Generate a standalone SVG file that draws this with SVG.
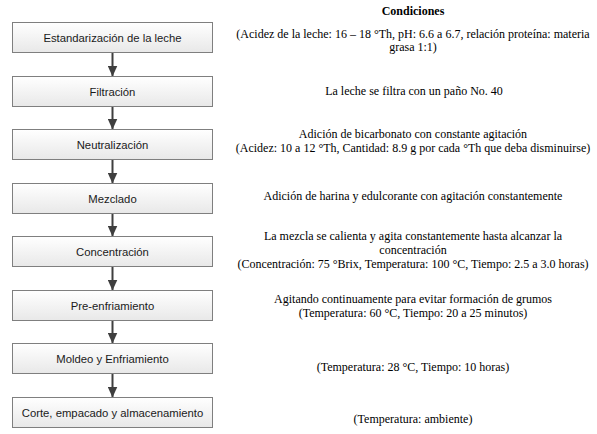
<svg xmlns="http://www.w3.org/2000/svg" width="597" height="434" viewBox="0 0 597 434">
<defs>
<linearGradient id="g" x1="0" y1="0" x2="0" y2="1">
<stop offset="0" stop-color="#ffffff"/>
<stop offset="1" stop-color="#e8e8e8"/>
</linearGradient>
<marker id="ah" markerWidth="11" markerHeight="10" refX="11" refY="5" orient="auto" markerUnits="userSpaceOnUse">
<path d="M0,0 L11,5 L0,10 Z" fill="#3f3f3f"/>
</marker>
<style>
.box{fill:url(#g);stroke:#7f7f7f;stroke-width:1}
.bt{font-family:"Liberation Sans",Arial,sans-serif;font-size:11.3px;fill:#1a1a1a;text-anchor:middle}
.ct{font-family:"Liberation Serif","Times New Roman",serif;font-size:12px;fill:#000;text-anchor:middle}
.hd{font-weight:bold}
.cn{stroke:#3f3f3f;stroke-width:2;fill:none}
</style>
</defs>
<rect width="597" height="434" fill="#ffffff"/>
<g id="connectors">
<line class="cn" x1="112.5" y1="52.5" x2="112.5" y2="76.5" marker-end="url(#ah)"/>
<line class="cn" x1="112.5" y1="106.5" x2="112.5" y2="129.5" marker-end="url(#ah)"/>
<line class="cn" x1="112.5" y1="159.5" x2="112.5" y2="183.5" marker-end="url(#ah)"/>
<line class="cn" x1="112.5" y1="213.5" x2="112.5" y2="236.5" marker-end="url(#ah)"/>
<line class="cn" x1="112.5" y1="266.5" x2="112.5" y2="290.5" marker-end="url(#ah)"/>
<line class="cn" x1="112.5" y1="320.5" x2="112.5" y2="343.5" marker-end="url(#ah)"/>
<line class="cn" x1="112.5" y1="373.5" x2="112.5" y2="397.5" marker-end="url(#ah)"/>
</g>
<g id="n1"><rect class="box" x="12.5" y="22.5" width="200" height="30"/><text class="bt" x="112.5" y="41.5">Estandarización de la leche</text></g>
<g id="n2"><rect class="box" x="12.5" y="76.5" width="200" height="30"/><text class="bt" x="112.5" y="95.5">Filtración</text></g>
<g id="n3"><rect class="box" x="12.5" y="129.5" width="200" height="30"/><text class="bt" x="112.5" y="148.5">Neutralización</text></g>
<g id="n4"><rect class="box" x="12.5" y="183.5" width="200" height="30"/><text class="bt" x="112.5" y="202.5">Mezclado</text></g>
<g id="n5"><rect class="box" x="12.5" y="236.5" width="200" height="30"/><text class="bt" x="112.5" y="255.5">Concentración</text></g>
<g id="n6"><rect class="box" x="12.5" y="290.5" width="200" height="30"/><text class="bt" x="112.5" y="309.5">Pre-enfriamiento</text></g>
<g id="n7"><rect class="box" x="12.5" y="343.5" width="200" height="30"/><text class="bt" x="112.5" y="362.5">Moldeo y Enfriamiento</text></g>
<g id="n8"><rect class="box" x="12.5" y="397.5" width="200" height="30"/><text class="bt" x="112.5" y="416.5">Corte, empacado y almacenamiento</text></g>
<g id="conditions">
<text class="ct hd" x="413" y="15">Condiciones</text>
<text class="ct" x="413" y="38">(Acidez de la leche: 16 – 18 °Th, pH: 6.6 a 6.7, relación proteína: materia</text>
<text class="ct" x="413" y="51">grasa 1:1)</text>
<text class="ct" x="414" y="95">La leche se filtra con un paño No. 40</text>
<text class="ct" x="413" y="138">Adición de bicarbonato con constante agitación</text>
<text class="ct" x="413" y="152">(Acidez: 10 a 12 °Th, Cantidad: 8.9 g por cada °Th que deba disminuirse)</text>
<text class="ct" x="413" y="200">Adición de harina y edulcorante con agitación constantemente</text>
<text class="ct" x="413" y="240">La mezcla se calienta y agita constantemente hasta alcanzar la</text>
<text class="ct" x="413" y="253.5">concentración</text>
<text class="ct" x="413" y="267.5">(Concentración: 75 °Brix, Temperatura: 100 °C, Tiempo: 2.5 a 3.0 horas)</text>
<text class="ct" x="413" y="303">Agitando continuamente para evitar formación de grumos</text>
<text class="ct" x="413" y="317">(Temperatura: 60 °C, Tiempo: 20 a 25 minutos)</text>
<text class="ct" x="413" y="371">(Temperatura: 28 °C, Tiempo: 10 horas)</text>
<text class="ct" x="413" y="423">(Temperatura: ambiente)</text>
</g>
</svg>
